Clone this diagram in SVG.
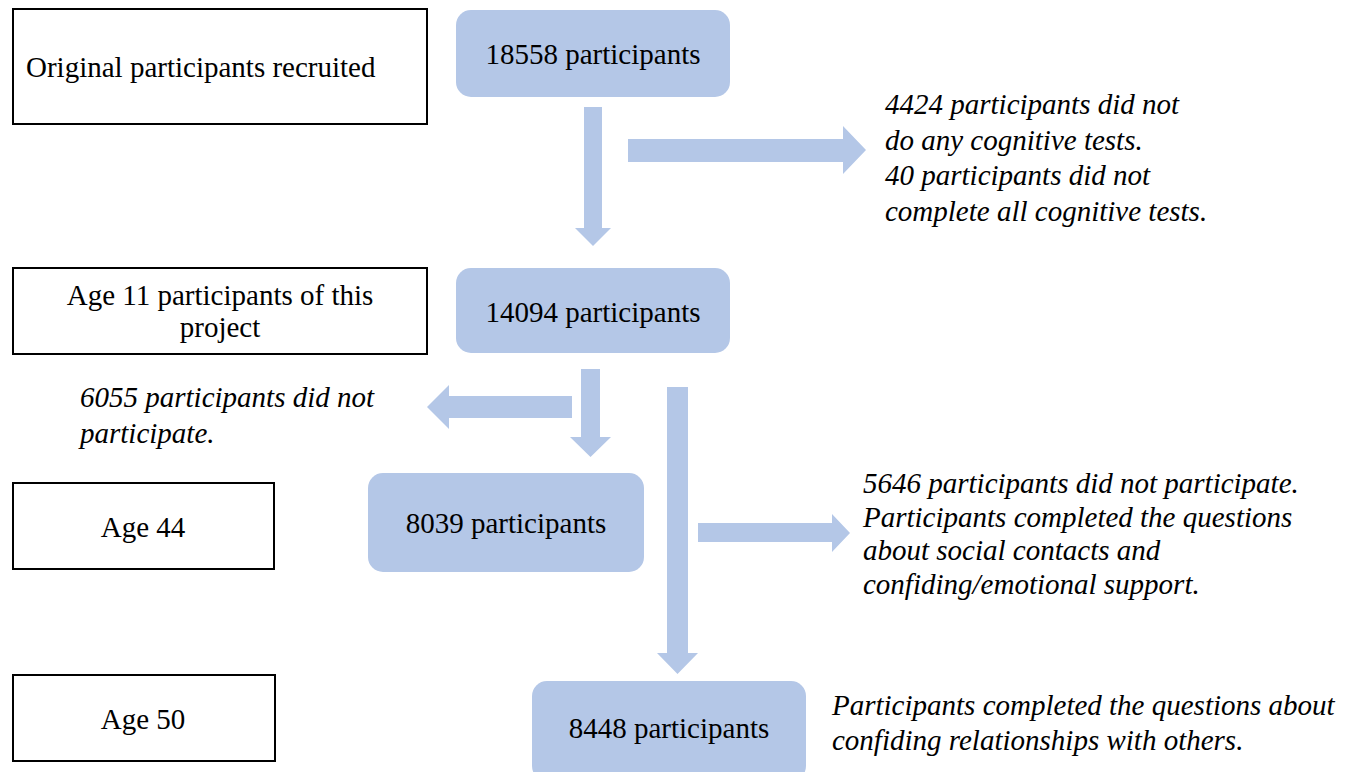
<svg xmlns="http://www.w3.org/2000/svg" width="1357" height="772" viewBox="0 0 1357 772">
<style>
.lab{fill:none;stroke:#000;stroke-width:2}
.stage{fill:#B4C7E7}
.t{font-family:"Liberation Serif","Times New Roman",serif;font-size:29px;fill:#000}
.c{text-anchor:middle}
.i{font-style:italic}
.arr{fill:#B4C7E7}
</style>
<rect width="1357" height="772" fill="#fff"/>
<g id="label-original">
<rect class="lab" x="13" y="9" width="414" height="115"/>
<text class="t" x="26" y="77">Original participants recruited</text>
</g>
<g id="label-age11">
<rect class="lab" x="13" y="268" width="414" height="86"/>
<text class="t c" x="220" y="305">Age 11 participants of this</text>
<text class="t c" x="220" y="337">project</text>
</g>
<g id="label-age44">
<rect class="lab" x="13" y="483" width="261" height="86"/>
<text class="t c" x="143" y="537">Age 44</text>
</g>
<g id="label-age50">
<rect class="lab" x="13" y="675" width="262" height="86"/>
<text class="t c" x="143" y="729">Age 50</text>
</g>
<g id="n18558">
<rect class="stage" x="456" y="10" width="274" height="87" rx="15"/>
<text class="t c" x="593" y="64">18558 participants</text>
</g>
<g id="n14094">
<rect class="stage" x="456" y="268" width="274" height="85" rx="15"/>
<text class="t c" x="593" y="322">14094 participants</text>
</g>
<g id="n8039">
<rect class="stage" x="368" y="473" width="276" height="99" rx="15"/>
<text class="t c" x="506" y="533">8039 participants</text>
</g>
<g id="n8448">
<rect class="stage" x="532" y="681" width="274" height="100" rx="15"/>
<text class="t c" x="669" y="738">8448 participants</text>
</g>
<g id="note1">
<text class="t i" x="885" y="114">4424 participants did not</text>
<text class="t i" x="885" y="150">do any cognitive tests.</text>
<text class="t i" x="885" y="185">40 participants did not</text>
<text class="t i" x="885" y="221">complete all cognitive tests.</text>
</g>
<g id="note2">
<text class="t i" x="80" y="407">6055 participants did not</text>
<text class="t i" x="80" y="443">participate.</text>
</g>
<g id="note3">
<text class="t i" x="863" y="493">5646 participants did not participate.</text>
<text class="t i" x="863" y="527">Participants completed the questions</text>
<text class="t i" x="863" y="560">about social contacts and</text>
<text class="t i" x="863" y="594">confiding/emotional support.</text>
</g>
<g id="note4">
<text class="t i" x="832" y="715">Participants completed the questions about</text>
<text class="t i" x="832" y="750">confiding relationships with others.</text>
</g>
<g id="connectors">
<polygon class="arr" points="584,107 602,107 602,228 611,228 593,246 575,228 584,228"/>
<polygon class="arr" points="628,139 843,139 843,126 866,150 843,174 843,162 628,162"/>
<polygon class="arr" points="572,396 449,396 449,385 427,407 449,429 449,418 572,418"/>
<polygon class="arr" points="581,369 600,369 600,437 611,437 590.5,457 570,437 581,437"/>
<polygon class="arr" points="667,387 688,387 688,653 698,653 677.5,674 657,653 667,653"/>
<polygon class="arr" points="698,523 832,523 832,514 850,533 832,552 832,542 698,542"/>
</g>
</svg>
